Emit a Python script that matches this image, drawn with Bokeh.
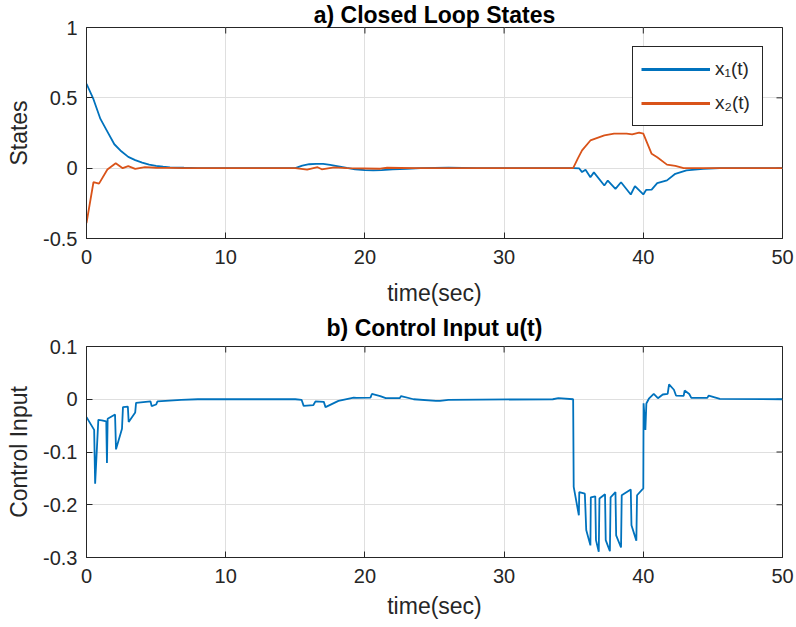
import math
from bokeh.plotting import figure
from bokeh.layouts import column
from bokeh.models import (FixedTicker, CustomJSTickFormatter, Legend, LegendItem,
                          Range1d, Label)
from bokeh.embed import file_html
from bokeh.resources import INLINE

# ---------------- data ----------------
x_ticks = [0, 10, 20, 30, 40, 50]
states_ticks = [-0.5, 0, 0.5, 1]
input_ticks = [-0.3, -0.2, -0.1, 0, 0.1]

t_x1 = [0, 0.5, 1.0, 1.5, 2.0, 2.5, 3.0, 3.5, 4.0, 4.5, 5.0, 5.5, 6.0, 7.0, 8.0, 10.0,
        15.0, 15.5, 16.0, 16.5, 17.0, 17.5, 18.0, 18.7, 19.3, 20.0, 20.6, 21.2, 22.0,
        23.0, 24.0, 25.0, 26.0, 27.0, 28.0, 30.0,
        35.0, 35.4, 35.6, 35.85, 36.2, 36.45, 37.2, 37.45, 38.0, 38.4, 39.1, 39.4,
        40.0, 40.2, 40.6, 41.0, 41.7, 42.3, 43.1, 44.3, 45.5, 47.0, 50.0]
x1 = [0.60, 0.49, 0.35, 0.26, 0.17, 0.12, 0.08, 0.057, 0.04, 0.025, 0.016, 0.01, 0.006,
      0.003, 0.001, 0.0,
      0.0, 0.018, 0.028, 0.031, 0.030, 0.024, 0.015, 0.002, -0.008, -0.014, -0.016,
      -0.014, -0.009, -0.004, 0.0, 0.002, 0.003, 0.002, 0.001, 0.0,
      0.0, -0.002, -0.028, -0.012, -0.064, -0.030, -0.123, -0.088, -0.147, -0.100,
      -0.187, -0.128, -0.187, -0.155, -0.152, -0.107, -0.087, -0.040, -0.016, -0.005,
      0.0, 0.0, 0.0]

t_x2 = [0, 0.5, 0.9, 1.5, 2.1, 2.6, 3.0, 3.5, 4.2, 5.0, 6.0, 7.0,
        15.0, 15.85, 16.6, 16.9, 17.8, 18.7, 21.1, 21.6, 23.6,
        34.96, 35.3, 35.6, 36.2, 37.2, 37.9, 38.8, 39.2, 39.7, 40.0, 40.6, 41.0,
        41.7, 42.3, 42.9, 50.0]
x2 = [-0.39, -0.10, -0.11, -0.01, 0.035, 0.0, 0.015, -0.005, 0.008, 0.003, 0.002, 0.0,
      0.0, -0.011, 0.007, -0.008, 0.006, 0.0, -0.004, 0.003, 0.0,
      0.0, 0.07, 0.126, 0.197, 0.233, 0.245, 0.245, 0.240, 0.252, 0.245, 0.102, 0.078,
      0.025, 0.016, 0.0, 0.0]

t_u = [0, 0.55, 0.62, 0.85, 1.1, 1.42, 1.47, 1.52, 2.05, 2.12, 2.55, 2.62, 2.97, 3.03,
       3.5, 3.56, 4.6, 4.68, 5.0, 5.1, 6.8, 8.0,
       15.0, 15.45, 15.6, 16.3, 16.45, 17.05, 17.17, 18.1, 19.2, 19.4, 20.4, 20.5, 21.1,
       21.5, 22.5, 22.6, 23.5, 25.1, 25.4, 26.0, 33.5, 33.9, 34.96,
       35.0, 35.37, 35.4, 35.8, 35.9, 36.2, 36.23, 36.55, 36.6, 36.8, 36.85, 37.25, 37.3,
       37.6, 37.65, 38.0, 38.05, 38.4, 38.45, 39.1, 39.15, 39.5, 39.55, 40.0,
       40.02, 40.15, 40.22, 40.4, 40.75, 41.05, 41.4, 41.75, 41.85, 42.2, 42.35, 42.9,
       42.97, 43.3, 43.45, 44.6, 44.7, 45.5, 50.0]
u = [-0.034, -0.058, -0.160, -0.039, -0.040, -0.042, -0.121, -0.037, -0.029, -0.095,
     -0.056, -0.015, -0.014, -0.043, -0.025, -0.007, -0.004, -0.013, -0.010, -0.004,
     -0.001, 0.0,
     0.0, -0.001, -0.0125, -0.011, -0.004, -0.005, -0.015, -0.003, 0.003, 0.0025, 0.003,
     0.010, 0.006, 0.002, 0.002, 0.006, 0.0, -0.003, -0.003, -0.001, 0.0, 0.002, 0.0,
     -0.166, -0.220, -0.176, -0.179, -0.248, -0.277, -0.186, -0.184, -0.267, -0.289,
     -0.188, -0.180, -0.267, -0.288, -0.186, -0.176, -0.258, -0.281, -0.182, -0.171,
     -0.239, -0.268, -0.182, -0.169,
     -0.0075, -0.058, -0.008, 0.001, 0.010, 0.002, 0.009, 0.010, 0.028, 0.018, 0.007,
     0.0065, 0.0165, 0.010, 0.0026, 0.0026, 0.007, 0.0008, 0.0]

# ---------------- styling ----------------
FONT = "Liberation Sans"
INK = "#262626"
GRID = "#dfdfdf"
BLUE = "#0072BD"
ORANGE = "#D95319"

fmt_code = "return String(Math.round(tick * 100) / 100);"


def make_fig(height, top, bottom, yr, yticks, title, ylabel, title_y, lab_standoff):
    p = figure(width=796, height=height, x_range=Range1d(0, 50), y_range=Range1d(*yr),
               output_backend="svg", toolbar_location=None,
               min_border_left=86, min_border_right=14,
               min_border_top=top, min_border_bottom=bottom)
    p.background_fill_color = "white"
    p.border_fill_color = "white"
    p.outline_line_color = INK
    p.outline_line_alpha = 1
    p.outline_line_width = 1

    for ax, ticks, lab in ((p.xaxis[0], x_ticks, "time(sec)"), (p.yaxis[0], yticks, ylabel)):
        ax.ticker = FixedTicker(ticks=ticks)
        ax.formatter = CustomJSTickFormatter(code=fmt_code)
        ax.axis_label = lab
        ax.axis_label_text_font = FONT
        ax.axis_label_text_font_size = "23px"
        ax.axis_label_text_font_style = "normal"
        ax.axis_label_text_color = INK
        ax.major_label_text_font = FONT
        ax.major_label_text_font_size = "20px"
        ax.major_label_text_color = INK
        ax.major_tick_in = 6
        ax.major_tick_out = 0
        ax.minor_tick_in = 0
        ax.minor_tick_out = 0
        ax.minor_tick_line_color = None
        ax.axis_line_color = INK
        ax.major_tick_line_color = INK
    p.xaxis.major_label_standoff = 11
    p.xaxis.axis_label_standoff = lab_standoff
    p.yaxis.major_label_standoff = 9
    p.yaxis.axis_label_standoff = 8

    p.xgrid.ticker = FixedTicker(ticks=x_ticks)
    p.ygrid.ticker = FixedTicker(ticks=yticks)
    p.xgrid.grid_line_color = GRID
    p.ygrid.grid_line_color = GRID
    p.xgrid.grid_line_width = 1
    p.ygrid.grid_line_width = 1

    # mirrored inward ticks on the top and right edges of the box
    p.scatter(x=x_ticks, y=[yr[1]] * len(x_ticks), marker="dash", size=12,
              angle=math.pi / 2, line_color=INK, line_width=1)
    p.scatter(x=[x_ticks[-1]] * len(yticks), y=yticks, marker="dash", size=12,
              line_color=INK, line_width=1)

    # title as a label in the top border panel (takes no extra room)
    p.add_layout(Label(x=348, y=title_y, x_units="screen", y_units="screen", text=title,
                       text_align="center", text_baseline="alphabetic",
                       text_font=FONT, text_font_size="23px",
                       text_font_style="bold", text_color="#000000"), "above")
    return p


p1 = make_fig(313, 27, 75, (-0.5, 1), states_ticks, "a) Closed Loop States", "States", 13, 13)
p1.line(t_x1, x1, line_color=BLUE, line_width=1.8)
p1.line(t_x2, x2, line_color=ORANGE, line_width=1.8)

# legend samples (thicker, like the reference legend); a single point draws nothing
d1 = p1.line(t_x1[:1], x1[:1], line_color=BLUE, line_width=3.2)
d2 = p1.line(t_x2[:1], x2[:1], line_color=ORANGE, line_width=3.2)
legend = Legend(items=[LegendItem(label="x\u2081(t)", renderers=[d1]),
                       LegendItem(label="x\u2082(t)", renderers=[d2])],
                location=(546, 112), orientation="vertical",
                glyph_width=69, glyph_height=28, label_standoff=5, label_width=39,
                label_height=28, padding=8, spacing=6, margin=0,
                border_line_color=INK, border_line_width=1, border_line_alpha=1,
                background_fill_color="white", background_fill_alpha=1,
                label_text_font=FONT, label_text_font_size="19px", label_text_color=INK)
p1.add_layout(legend)

p2 = make_fig(314, 33, 70, (-0.3, 0.1), input_ticks, "b) Control Input u(t)", "Control Input",
              19, 7)
p2.line(t_u, u, line_color=BLUE, line_width=1.8)

layout = column(p1, p2, spacing=0)
open("out.html", "w").write(file_html(layout, INLINE))
